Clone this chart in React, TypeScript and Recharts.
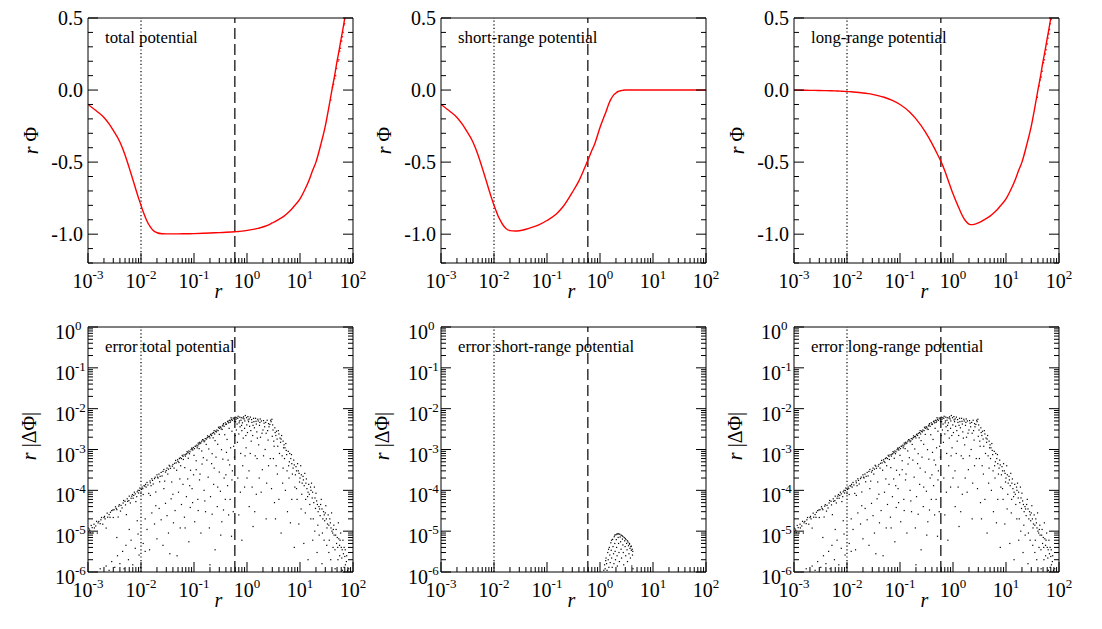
import React from 'react';
import { ComposedChart, Line, Scatter, XAxis, YAxis, ReferenceLine } from 'recharts';

const FONT = "'Liberation Serif', 'DejaVu Serif', Times, serif";
const TXT = { fontFamily: FONT } as React.CSSProperties;

// ---------- axis ticks ----------
const xMajor = [0.001, 0.01, 0.1, 1, 10, 100];
const xMajorLabels = ['-3', '-2', '-1', '0', '1', '2'];
const potMajor = [-1.0, -0.5, 0, 0.5];
const potMajorLabels = ['-1.0', '-0.5', '0.0', '0.5'];
const potAllTicks = [-1.2, -1.1, -1.0, -0.9, -0.8, -0.7, -0.6, -0.5, -0.4, -0.3, -0.2, -0.1, 0, 0.1, 0.2, 0.3, 0.4, 0.5];
const errMajor = [1e-6, 1e-5, 1e-4, 1e-3, 1e-2, 1e-1, 1];
const errMajorLabels = ['-6', '-5', '-4', '-3', '-2', '-1', '0'];
const minorMult = [2, 3, 4, 5, 6, 7, 8, 9];
const withMinor = (majors: number[]) => {
  const out: number[] = [];
  majors.forEach((m, i) => {
    out.push(m);
    if (i < majors.length - 1) minorMult.forEach((k) => out.push(m * k));
  });
  return out;
};
const xAllTicks = withMinor(xMajor);
const errAllTicks = withMinor(errMajor);

// ---------- potential curves (r * Phi) ----------
const rGrid = [0.001, 0.0015, 0.002, 0.0025, 0.003, 0.004, 0.005, 0.006, 0.007, 0.008, 0.009, 0.01, 0.011, 0.012, 0.013, 0.015, 0.017, 0.02, 0.025, 0.03, 0.04, 0.05, 0.07, 0.1, 0.15, 0.2, 0.3, 0.4, 0.5, 0.6, 0.7, 0.8, 1, 1.15, 1.3, 1.45, 1.6, 1.8, 2, 2.2, 2.5, 3, 3.5, 4, 5, 6, 7, 8, 10, 12, 15, 17, 20, 25, 30, 35, 40, 45, 50, 55, 60, 65, 70, 100];
const totalPot = [-0.10, -0.15, -0.19, -0.235, -0.28, -0.36, -0.45, -0.54, -0.62, -0.69, -0.75, -0.80, -0.845, -0.88, -0.91, -0.95, -0.975, -0.99, -0.997, -0.998, -0.998, -0.998, -0.997, -0.996, -0.994, -0.992, -0.989, -0.987, -0.985, -0.983, -0.981, -0.979, -0.974, -0.97, -0.967, -0.963, -0.96, -0.955, -0.95, -0.945, -0.937, -0.922, -0.91, -0.897, -0.875, -0.85, -0.825, -0.80, -0.755, -0.70, -0.62, -0.565, -0.50, -0.37, -0.25, -0.12, 0.0, 0.10, 0.20, 0.28, 0.36, 0.43, 0.5, null];
const shortPot = [-0.10, -0.15, -0.19, -0.235, -0.28, -0.36, -0.45, -0.54, -0.62, -0.69, -0.75, -0.80, -0.84, -0.875, -0.90, -0.94, -0.962, -0.975, -0.978, -0.976, -0.966, -0.955, -0.935, -0.905, -0.86, -0.81, -0.71, -0.63, -0.55, -0.48, -0.42, -0.37, -0.26, -0.20, -0.15, -0.10, -0.065, -0.035, -0.02, -0.01, -0.004, 0, 0, 0, 0, 0, 0, 0, 0, 0, 0, 0, 0, 0, 0, 0, 0, 0, 0, 0, 0, 0, 0, 0];
const longPot = [0.0, -0.001, -0.002, -0.002, -0.003, -0.004, -0.005, -0.006, -0.007, -0.008, -0.009, -0.01, -0.011, -0.012, -0.013, -0.015, -0.017, -0.02, -0.025, -0.03, -0.04, -0.05, -0.07, -0.1, -0.15, -0.2, -0.29, -0.37, -0.44, -0.50, -0.56, -0.62, -0.72, -0.775, -0.82, -0.86, -0.89, -0.915, -0.93, -0.934, -0.932, -0.922, -0.91, -0.897, -0.875, -0.85, -0.825, -0.80, -0.755, -0.70, -0.62, -0.565, -0.50, -0.37, -0.25, -0.12, 0.0, 0.10, 0.20, 0.28, 0.36, 0.43, 0.5, null];
// scattered red points at large r
const totalNoise: [number, number][] = [[38, -0.07], [41, 0.02], [43, 0.04], [45, 0.08], [47, 0.1], [49, 0.15], [52, 0.2], [54, 0.21], [56, 0.27], [58, 0.29], [61, 0.34], [63, 0.37], [65, 0.4], [67, 0.45], [69, 0.46], [72, 0.5]];
const longNoise: [number, number][] = [[39, -0.05], [42, 0.03], [44, 0.07], [46, 0.09], [48, 0.13], [51, 0.19], [53, 0.21], [55, 0.25], [57, 0.28], [60, 0.32], [62, 0.36], [64, 0.39], [66, 0.42], [68, 0.46], [71, 0.49]];

// ---------- errors r*|dPhi| ----------
const errTotal: [number, number][] = [
  [0.001, 1.2e-5], [0.001, 9.6e-6], [0.00105, 1.13e-5], [0.0011, 9.2e-6], [0.00115, 1.38e-5], [0.0012, 1.22e-5], [0.00125, 9.0e-6], [0.0013, 1.48e-5], [0.0014, 1.34e-5], [0.00145, 1.74e-5], [0.0015, 9.0e-6], [0.0016, 1.73e-5], [0.0017, 1.53e-5], [0.0018, 2.16e-5], [0.0019, 1.48e-5],
  [0.002, 2.16e-5], [0.0021, 2.0e-5], [0.0022, 1.19e-5], [0.0023, 2.76e-5], [0.0025, 2.55e-5], [0.0026, 2.18e-5], [0.0028, 3.19e-5], [0.003, 2.16e-5], [0.0031, 3.35e-5], [0.0033, 3.96e-5], [0.0035, 3.36e-5], [0.0037, 2.22e-5], [0.0039, 4.45e-5], [0.0042, 4.28e-5], [0.0044, 3.7e-5], [0.0047, 5.64e-5],
  [0.005, 5.4e-5], [0.0053, 2.54e-5], [0.0056, 5.38e-5], [0.006, 7.2e-5], [0.0063, 4.9e-5], [0.0067, 7.2e-5], [0.0071, 6.4e-5], [0.0075, 9.0e-5], [0.008, 5.3e-5], [0.0085, 9.2e-5], [0.009, 8.6e-5], [0.0095, 1.14e-4], [0.01, 8.4e-5], [0.0105, 1.2e-4], [0.011, 7.9e-5], [0.0118, 1.27e-4],
  [0.0125, 1.2e-4], [0.013, 1.56e-4], [0.014, 8.4e-5], [0.015, 1.53e-4], [0.016, 1.92e-4], [0.017, 1.43e-4], [0.018, 1.94e-4], [0.019, 9.1e-5], [0.02, 2.4e-4], [0.021, 2.0e-4], [0.0225, 1.62e-4], [0.024, 2.74e-4], [0.025, 2.25e-4], [0.027, 3.24e-4], [0.028, 1.68e-4],
  [0.03, 3.06e-4], [0.032, 2.5e-4], [0.034, 4.1e-4], [0.036, 3.46e-4], [0.038, 1.6e-4], [0.04, 4.3e-4], [0.042, 3.5e-4], [0.045, 5.4e-4], [0.047, 3.1e-4], [0.05, 5.1e-4], [0.053, 6.0e-4], [0.056, 4.0e-4], [0.06, 7.2e-4], [0.063, 5.7e-4], [0.067, 3.6e-4], [0.07, 7.6e-4],
  [0.074, 8.9e-4], [0.078, 6.1e-4], [0.082, 7.9e-4], [0.086, 3.1e-4], [0.09, 1.08e-3], [0.095, 9.7e-4], [0.1, 7.2e-4], [0.105, 1.2e-3], [0.11, 5.3e-4], [0.115, 1.1e-3], [0.12, 1.44e-3], [0.125, 1.05e-3], [0.13, 1.4e-3], [0.14, 9.2e-4], [0.145, 1.74e-3], [0.15, 6.3e-4],
  [0.16, 1.63e-3], [0.17, 1.33e-3], [0.18, 2.16e-3], [0.19, 1.03e-3], [0.2, 1.92e-3], [0.21, 2.4e-3], [0.22, 7.9e-4], [0.23, 1.93e-3], [0.24, 2.9e-3], [0.25, 1.65e-3], [0.265, 2.7e-3], [0.28, 1.34e-3], [0.29, 3.5e-3], [0.3, 2.34e-3], [0.32, 3.5e-3], [0.33, 9.9e-4],
  [0.34, 3.1e-3], [0.36, 4.3e-3], [0.38, 2.3e-3], [0.4, 4.1e-3], [0.42, 1.76e-3], [0.44, 5.0e-3], [0.46, 3.3e-3], [0.48, 4.6e-3], [0.5, 6.0e-3], [0.52, 2.8e-3], [0.55, 5.9e-3], [0.58, 4.9e-3], [0.6, 2.2e-3],
  [0.00108, 1.05e-5], [0.00132, 1.2e-5], [0.00155, 1.6e-5], [0.00175, 1.9e-5], [0.00205, 2.3e-5], [0.00235, 2.2e-5], [0.00265, 2.9e-5], [0.00295, 3.3e-5], [0.0034, 3.6e-5], [0.0038, 4.1e-5], [0.0041, 3.1e-5], [0.0046, 4.9e-5], [0.0051, 4.4e-5], [0.0055, 6.2e-5], [0.0059, 5.6e-5], [0.0065, 6.4e-5],
  [0.0069, 7.9e-5], [0.0073, 7.5e-5], [0.0078, 8.2e-5], [0.0083, 7.0e-5], [0.0088, 1.0e-4], [0.0093, 9.9e-5], [0.0102, 1.05e-4], [0.0108, 1.1e-4], [0.0114, 1.3e-4], [0.0122, 1.4e-4], [0.0135, 1.35e-4], [0.0148, 1.7e-4], [0.0155, 1.3e-4], [0.0165, 1.75e-4], [0.0185, 2.1e-4], [0.0205, 2.1e-4],
  [0.0218, 2.5e-4], [0.023, 2.2e-4], [0.026, 2.9e-4], [0.029, 2.8e-4], [0.031, 3.5e-4], [0.033, 3.3e-4], [0.035, 3.9e-4], [0.039, 3.9e-4], [0.043, 4.6e-4], [0.046, 4.7e-4], [0.049, 5.6e-4], [0.052, 4.8e-4], [0.055, 6.3e-4], [0.058, 6.0e-4], [0.062, 6.8e-4], [0.065, 7.4e-4],
  [0.069, 6.9e-4], [0.073, 7.9e-4], [0.077, 8.4e-4], [0.08, 9.2e-4], [0.084, 8.8e-4], [0.088, 9.9e-4], [0.093, 1.03e-3], [0.097, 1.12e-3], [0.102, 1.05e-3], [0.108, 1.2e-3], [0.113, 1.28e-3], [0.118, 1.22e-3], [0.123, 1.35e-3], [0.128, 1.5e-3], [0.135, 1.45e-3], [0.14, 1.6e-3],
  [0.15, 1.7e-3], [0.155, 1.55e-3], [0.163, 1.85e-3], [0.172, 1.8e-3], [0.178, 1.95e-3], [0.188, 2.05e-3], [0.195, 2.1e-3], [0.205, 2.3e-3], [0.215, 2.2e-3], [0.225, 2.5e-3], [0.235, 2.6e-3], [0.245, 2.4e-3], [0.255, 2.8e-3], [0.27, 3.0e-3], [0.285, 2.9e-3], [0.3, 3.3e-3],
  [0.31, 3.6e-3], [0.325, 3.2e-3], [0.345, 3.8e-3], [0.355, 4.0e-3], [0.37, 3.7e-3], [0.39, 4.5e-3], [0.41, 4.2e-3], [0.43, 4.8e-3], [0.45, 4.5e-3], [0.47, 5.2e-3], [0.49, 5.0e-3], [0.51, 5.5e-3], [0.53, 5.2e-3], [0.57, 5.6e-3], [0.6, 6.2e-3],
  [0.0017, 1.2e-6], [0.0022, 1.4e-6], [0.0025, 1.1e-6], [0.0028, 1.8e-6], [0.0032, 1.3e-6], [0.0036, 2.5e-6], [0.004, 1.6e-6], [0.0045, 3.2e-6], [0.0048, 1.2e-6], [0.0052, 4.5e-6], [0.0058, 2.0e-6], [0.0065, 6.0e-6], [0.007, 1.5e-6], [0.0078, 3.8e-6], [0.0088, 8.5e-6], [0.0092, 2.6e-6], [0.0098, 1.3e-6],
  [0.011, 5.0e-6], [0.012, 2.0e-5], [0.013, 1.1e-5], [0.0145, 3.5e-6], [0.016, 2.8e-5], [0.018, 1.5e-5], [0.02, 6.5e-6], [0.022, 3.6e-5], [0.024, 1.9e-5], [0.026, 4.5e-6], [0.029, 4.8e-5], [0.031, 2.4e-5], [0.033, 9.0e-6], [0.037, 6.2e-5], [0.041, 1.6e-5], [0.044, 3.2e-5], [0.048, 2.5e-6], [0.051, 9.0e-5], [0.055, 1.2e-5],
  [0.058, 4.5e-5], [0.062, 1.4e-4], [0.066, 2.2e-5], [0.072, 7.0e-5], [0.076, 1.9e-4], [0.08, 5.5e-6], [0.085, 3.8e-5], [0.092, 1.1e-4], [0.098, 2.4e-4], [0.103, 1.7e-5], [0.11, 3.2e-4], [0.118, 6.0e-5], [0.127, 1.8e-4], [0.135, 9.0e-6], [0.142, 4.4e-4], [0.155, 1.0e-4],
  [0.165, 3.0e-5], [0.175, 5.5e-4], [0.185, 2.1e-4], [0.195, 1.2e-5], [0.205, 7.0e-5], [0.215, 4.5e-4], [0.235, 1.4e-4], [0.25, 3.5e-6], [0.26, 6.5e-4], [0.275, 4.0e-5], [0.3, 2.8e-4], [0.315, 9.5e-5], [0.335, 1.7e-5], [0.35, 5.8e-4], [0.37, 2.0e-4], [0.39, 6.0e-5],
  [0.41, 8.5e-4], [0.43, 1.3e-4], [0.45, 2.5e-5], [0.47, 4.2e-4], [0.49, 1.1e-3], [0.51, 7.5e-6], [0.53, 3.0e-4], [0.56, 1.2e-3], [0.59, 9.0e-5],
  [0.0035, 7.0e-6], [0.006, 1.1e-5], [0.0085, 1.8e-5], [0.012, 3.2e-6], [0.015, 7.5e-5], [0.019, 4.2e-5], [0.027, 1.1e-4], [0.035, 2.8e-6], [0.04, 8.0e-5], [0.054, 1.9e-4], [0.068, 1.2e-5], [0.083, 1.3e-4], [0.094, 5.0e-5], [0.12, 3.2e-5], [0.13, 2.5e-4], [0.16, 5.5e-5],
  [0.2, 1.5e-6], [0.22, 2.6e-5], [0.24, 3.5e-4], [0.28, 1.2e-4], [0.32, 8.0e-6], [0.36, 3.3e-5], [0.4, 2.4e-4], [0.44, 5.5e-4], [0.48, 6.0e-5], [0.52, 1.8e-4], [0.55, 3.0e-5], [0.58, 6.5e-4],
  [0.62, 5.5e-3], [0.63, 3.0e-3], [0.65, 4.2e-3], [0.66, 1.5e-3], [0.68, 6.5e-3], [0.7, 2.4e-3], [0.72, 5.0e-3], [0.74, 3.6e-3], [0.76, 8.0e-4], [0.78, 6.0e-3], [0.8, 2.9e-3], [0.82, 4.5e-3], [0.85, 1.9e-3], [0.88, 5.6e-3], [0.9, 3.3e-3], [0.93, 6.8e-3],
  [0.96, 1.1e-3], [0.99, 4.0e-3], [1.02, 2.6e-3], [1.05, 5.3e-3], [1.09, 3.0e-4], [1.12, 3.7e-3], [1.16, 6.2e-3], [1.2, 1.6e-3], [1.24, 4.6e-3], [1.28, 2.2e-3], [1.33, 5.8e-3], [1.38, 3.4e-3], [1.43, 7.0e-4], [1.48, 4.9e-3], [1.53, 2.7e-3], [1.6, 5.5e-3],
  [1.66, 1.3e-3], [1.72, 3.9e-3], [1.8, 2.0e-3], [1.87, 5.0e-3], [1.95, 3.2e-4], [2.0, 3.0e-3], [2.1, 4.4e-3], [2.2, 1.0e-3], [2.3, 2.5e-3], [2.4, 5.2e-3], [2.5, 1.7e-3], [2.6, 3.6e-3], [2.75, 6.0e-4], [2.85, 4.8e-3], [3.0, 2.1e-3], [3.1, 3.0e-3],
  [3.25, 1.2e-3], [3.4, 2.6e-3], [3.55, 4.0e-4], [3.7, 1.8e-3], [3.9, 2.9e-3], [4.1, 8.0e-4], [4.3, 1.5e-3], [4.5, 2.2e-3], [4.7, 1.5e-4], [4.9, 1.1e-3], [5.1, 6.0e-4], [5.4, 1.4e-3], [5.7, 3.0e-4], [6.0, 9.0e-4], [6.3, 5.0e-4], [6.6, 1.6e-5],
  [6.9, 7.5e-4], [7.2, 2.5e-4], [7.6, 5.5e-4], [8.0, 1.2e-4], [8.4, 3.8e-4], [8.8, 6.0e-5], [9.3, 3.0e-4], [9.8, 1.6e-4], [10.3, 4.0e-4], [10.8, 8.0e-5], [11.4, 2.2e-4], [12.0, 1.3e-4], [12.6, 2.8e-5], [13.2, 1.9e-4], [13.9, 7.0e-5], [14.6, 1.4e-4],
  [15.3, 4.5e-5], [16.1, 1.0e-4], [17.0, 6.5e-5], [17.8, 2.0e-5], [18.7, 1.2e-4], [19.6, 3.6e-5], [20.6, 5.5e-5], [21.7, 1.4e-5], [22.8, 4.0e-5], [24.0, 2.4e-5], [25.2, 6.0e-5], [26.5, 9.0e-6], [27.8, 3.0e-5], [29.2, 1.8e-5], [30.7, 4.2e-5], [32.3, 1.2e-5],
  [34.0, 2.5e-5], [35.7, 6.0e-6], [37.5, 1.6e-5], [39.4, 2.8e-5], [41.4, 9.0e-6], [43.5, 1.4e-5], [45.7, 3.5e-6], [48.0, 1.1e-5], [50.5, 7.0e-6], [53.0, 1.6e-5], [55.7, 4.5e-6], [58.5, 9.0e-6], [61.5, 2.2e-6], [64.6, 6.0e-6], [68.0, 1.3e-6], [71.4, 3.5e-6], [75.0, 1.8e-6], [78.8, 1.1e-6],
  [0.64, 6.0e-3], [0.71, 4.5e-3], [0.79, 3.9e-3], [0.86, 6.3e-3], [0.95, 2.2e-3], [1.07, 4.8e-3], [1.18, 2.9e-3], [1.3, 3.9e-3], [1.45, 5.8e-3], [1.57, 1.9e-3], [1.75, 4.6e-3], [1.92, 2.5e-3], [2.15, 3.6e-3], [2.45, 2.9e-3], [2.7, 4.1e-3], [2.95, 5.5e-3],
  [3.2, 1.6e-3], [3.5, 2.2e-3], [3.8, 1.2e-3], [4.2, 1.9e-3], [4.6, 7.0e-4], [5.0, 1.3e-3], [5.5, 9.5e-4], [6.1, 4.0e-4], [6.7, 6.0e-4], [7.4, 3.5e-4], [8.2, 2.4e-4], [9.0, 4.5e-4], [10.0, 2.0e-4], [11.0, 1.5e-4], [12.3, 2.6e-4], [13.5, 1.1e-4],
  [15.0, 8.0e-5], [16.5, 1.5e-4], [18.2, 5.0e-5], [20.0, 8.5e-5], [22.0, 3.0e-5], [24.5, 4.5e-5], [27.0, 2.0e-5], [30.0, 2.8e-5], [33.0, 1.5e-5], [36.5, 2.0e-5], [40.0, 1.0e-5], [44.0, 8.0e-6], [49.0, 5.0e-6], [54.0, 6.5e-6], [60.0, 4.0e-6], [66.0, 2.8e-6], [72.0, 1.5e-6],
  [0.61, 4.8e-3], [0.67, 5.8e-3], [0.73, 6.2e-3], [0.77, 5.2e-3], [0.84, 5.9e-3], [0.91, 5.0e-3], [0.98, 6.0e-3], [1.04, 6.4e-3], [1.1, 5.6e-3], [1.22, 5.4e-3], [1.35, 4.8e-3], [1.5, 4.2e-3], [1.63, 5.0e-3], [1.78, 5.6e-3], [2.05, 5.1e-3], [2.25, 4.6e-3],
  [2.55, 4.3e-3], [2.8, 5.2e-3], [3.05, 4.0e-3], [3.35, 3.4e-3], [3.6, 2.8e-3], [4.0, 2.4e-3], [4.4, 1.8e-3], [4.8, 1.6e-3], [5.2, 1.1e-3], [5.6, 7.5e-4], [6.4, 8.0e-4], [7.0, 4.5e-4], [7.8, 4.2e-4], [8.6, 3.0e-4], [9.6, 2.6e-4], [10.6, 2.4e-4],
  [11.6, 1.8e-4], [12.9, 1.5e-4], [14.2, 9.0e-5], [15.8, 1.2e-4], [17.3, 9.0e-5], [19.2, 6.5e-5], [21.3, 4.5e-5], [23.4, 3.5e-5], [26.0, 3.5e-5], [28.7, 2.5e-5], [31.5, 2.0e-5], [35.0, 1.4e-5], [38.5, 1.2e-5], [42.5, 1.1e-5], [47.0, 8.0e-6], [51.5, 4.0e-6], [57.0, 6.0e-6], [62.5, 3.5e-6], [70.0, 2.4e-6],
  [0.67, 2.0e-4], [0.75, 9.0e-5], [0.83, 4.0e-4], [0.92, 7.0e-4], [1.0, 2.0e-4], [1.15, 8.0e-4], [1.25, 1.2e-4], [1.4, 3.0e-5], [1.55, 6.0e-4], [1.7, 2.0e-4], [1.85, 9.0e-5], [2.05, 7.0e-4], [2.35, 1.5e-4], [2.55, 4.0e-4], [2.9, 1.1e-4], [3.15, 6.0e-4],
  [3.45, 2.0e-5], [3.75, 2.5e-4], [4.0, 6.0e-5], [4.8, 3.5e-4], [5.3, 1.0e-4], [6.2, 2.0e-4], [7.0, 6.0e-5], [8.6, 1.1e-4], [10.5, 3.5e-5], [12.8, 6.0e-5], [16.0, 2.0e-5], [19.0, 1.0e-5], [23.0, 8.0e-6], [28.5, 6.0e-6], [35.0, 3.0e-6], [42.0, 4.0e-6], [52.0, 2.0e-6], [68.0, 4.0e-6], [76.0, 2.5e-6], [83.0, 1.2e-6],
  [1.5, 8.0e-5], [2.3, 2.0e-5], [3.3, 5.0e-5], [4.4, 9.0e-6], [5.8, 3.0e-5], [7.8, 4.0e-6], [9.5, 1.5e-5], [11.8, 5.0e-6], [14.2, 2.0e-6], [17.4, 6.0e-6], [21.0, 3.0e-6], [26.0, 1.6e-6], [32.0, 4.5e-6], [38.0, 2.0e-6], [46.0, 1.2e-6], [56.0, 2.5e-6], [63.0, 1.1e-6],
  [0.7, 2.5e-5], [0.9, 1.2e-4], [1.1, 4.0e-5], [0.8, 6.0e-6], [1.3, 1.3e-5],
];
const errLong = errTotal;
const errShort: [number, number][] = [
  [1.18, 1.1e-6], [1.22, 1.5e-6], [1.25, 1.2e-6], [1.3, 2.2e-6], [1.33, 1.6e-6], [1.36, 1.1e-6], [1.4, 3.0e-6], [1.43, 2.0e-6], [1.47, 1.3e-6], [1.5, 4.0e-6], [1.53, 2.6e-6], [1.56, 1.7e-6], [1.6, 5.2e-6], [1.63, 3.4e-6], [1.66, 2.2e-6], [1.7, 1.3e-6],
  [1.73, 6.3e-6], [1.76, 4.2e-6], [1.8, 2.8e-6], [1.83, 1.6e-6], [1.86, 7.3e-6], [1.9, 5.0e-6], [1.93, 3.2e-6], [1.96, 2.0e-6], [2.0, 8.2e-6], [2.03, 6.2e-6], [2.06, 4.0e-6], [2.1, 2.5e-6], [2.13, 1.4e-6], [2.16, 8.6e-6], [2.2, 7.0e-6], [2.24, 5.0e-6],
  [2.28, 3.0e-6], [2.32, 1.8e-6], [2.36, 8.4e-6], [2.4, 7.2e-6], [2.45, 5.5e-6], [2.5, 3.6e-6], [2.55, 2.2e-6], [2.6, 7.8e-6], [2.65, 6.4e-6], [2.7, 4.6e-6], [2.75, 3.0e-6], [2.8, 1.5e-6], [2.86, 7.0e-6], [2.92, 5.8e-6], [2.98, 4.2e-6], [3.05, 2.5e-6],
  [3.1, 6.2e-6], [3.17, 5.0e-6], [3.24, 3.5e-6], [3.3, 1.8e-6], [3.38, 5.4e-6], [3.45, 4.4e-6], [3.52, 2.8e-6], [3.6, 4.8e-6], [3.68, 3.8e-6], [3.75, 2.2e-6], [3.82, 4.2e-6], [3.9, 3.4e-6], [3.98, 1.4e-6], [4.05, 3.6e-6], [4.1, 2.6e-6], [4.15, 3.2e-6], [4.2, 1.2e-6],
  [1.9, 8.0e-6], [2.08, 8.5e-6], [2.25, 8.6e-6], [2.5, 8.0e-6], [2.7, 7.4e-6], [3.0, 6.6e-6], [3.3, 5.8e-6], [3.6, 5.0e-6], [3.9, 4.3e-6], [1.65, 6.0e-6], [1.45, 3.6e-6], [1.28, 1.9e-6],
];

const vDotted = 0.01;
const vDashed = 0.59;

// ---------- layout ----------
const PW = 265;
const PH = 245;
const AX = 1; // axis band thickness (must be > 0 for Recharts to draw it)
const M = { left: 79, right: 19, top: 14, bottom: 44 };
const panelLeft = [88, 441, 794];
const rowTop = [18, 327];

const sameVal = (a: number, b: number) => Math.abs(a - b) <= Math.abs(a) * 1e-6 + 1e-9;

type Side = 'bottom' | 'top' | 'left' | 'right';
function makeTick(side: Side, majors: number[], labels: string[] | null, pow: boolean) {
  return (props: any) => {
    const { x, y, payload } = props;
    const v = payload.value;
    const idx = majors.findIndex((m) => sameVal(m, v));
    const len = idx >= 0 ? 10 : 5;
    let line: React.ReactNode = null;
    if (side === 'bottom') line = <line x1={x} x2={x} y1={y} y2={y - len} stroke="#000" strokeWidth={1} />;
    if (side === 'top') line = <line x1={x} x2={x} y1={y} y2={y + len} stroke="#000" strokeWidth={1} />;
    if (side === 'left') line = <line x1={x} x2={x + len} y1={y} y2={y} stroke="#000" strokeWidth={1} />;
    if (side === 'right') line = <line x1={x} x2={x - len} y1={y} y2={y} stroke="#000" strokeWidth={1} />;
    let label: React.ReactNode = null;
    if (labels && idx >= 0) {
      if (side === 'bottom') {
        label = (
          <text x={x} y={y + 25} textAnchor="middle" fontSize={20} fill="#000" fontFamily={FONT} style={TXT}>
            10<tspan dy={-9} fontSize={13}>{labels[idx]}</tspan>
          </text>
        );
      } else if (side === 'left') {
        label = pow ? (
          <text x={x - 33} y={y + 12} textAnchor="start" fontSize={20} fill="#000" fontFamily={FONT} style={TXT}>
            10<tspan dy={-9} fontSize={13}>{labels[idx]}</tspan>
          </text>
        ) : (
          <text x={x - 5} y={y + 7} textAnchor="end" fontSize={20} fill="#000" fontFamily={FONT} style={TXT}>
            {labels[idx]}
          </text>
        );
      }
    }
    return (
      <g>
        {line}
        {label}
      </g>
    );
  };
}

const BlackDot = (p: any) => <rect x={p.cx - 0.6} y={p.cy - 0.6} width={1.2} height={1.2} fill="#000" />;
const RedDot = (p: any) => <rect x={p.cx - 0.7} y={p.cy - 0.7} width={1.4} height={1.4} fill="#ff0000" />;

type PanelProps = {
  kind: 'pot' | 'err';
  title: string;
  values?: (number | null)[];
  noise?: [number, number][];
  points?: [number, number][];
  left: number;
  top: number;
};

function Panel({ kind, title, values, noise, points, left, top }: PanelProps) {
  const isPot = kind === 'pot';
  const data = isPot && values ? rGrid.map((r, i) => ({ r, v: values[i] })) : [];
  const yDomain: [number, number] = isPot ? [-1.2, 0.5] : [1e-6, 1];
  const yTicks = isPot ? potAllTicks : errAllTicks;
  const yMajor = isPot ? potMajor : errMajor;
  const yLabels = isPot ? potMajorLabels : errMajorLabels;
  const yScale = isPot ? 'linear' : 'log';
  const W = PW + M.left + M.right + 2 * AX;
  const H = PH + M.top + M.bottom + 2 * AX;
  const plotLeftInChart = M.left + AX;
  const plotTopInChart = M.top + AX;

  const xTitle = () => (
    <text x={plotLeftInChart + PW / 2 - 2} y={plotTopInChart + PH + 35} textAnchor="middle" fontSize={20} fontStyle="italic" fill="#000" fontFamily={FONT} style={TXT}>
      r
    </text>
  );
  const panelTitle = () => (
    <text x={plotLeftInChart + 17} y={plotTopInChart + 25} fontSize={16.8} fill="#000" fontFamily={FONT} style={TXT}>
      {title}
    </text>
  );
  const yTitle = () => {
    const bx = plotLeftInChart - (isPot ? 50 : 52);
    const cy = plotTopInChart + (isPot ? PH / 2 : 109);
    return (
      <text x={bx} y={cy} transform={`rotate(-90, ${bx}, ${cy})`} textAnchor="middle" fontSize={20} fill="#000" fontFamily={FONT} style={TXT}>
        <tspan fontStyle="italic">r</tspan>
        {isPot ? ' \u03A6' : ' |\u0394\u03A6|'}
      </text>
    );
  };

  return (
    <div style={{ position: 'absolute', left: left - plotLeftInChart, top: top - plotTopInChart, width: W, height: H }}>
      <ComposedChart width={W} height={H} data={data} margin={M} style={{ fontFamily: FONT }}>
        <XAxis
          xAxisId="b"
          dataKey="r"
          type="number"
          scale="log"
          domain={[0.001, 100]}
          allowDataOverflow
          ticks={xAllTicks}
          interval={0}
          height={AX}
          tickSize={0}
          tickMargin={0}
          tickLine={false}
          axisLine={{ stroke: '#000', strokeWidth: 1 }}
          tick={makeTick('bottom', xMajor, xMajorLabels, true)}
          label={{ content: xTitle }}
        />
        <XAxis
          xAxisId="t"
          orientation="top"
          type="number"
          scale="log"
          domain={[0.001, 100]}
          allowDataOverflow
          ticks={xAllTicks}
          interval={0}
          height={AX}
          tickSize={0}
          tickMargin={0}
          tickLine={false}
          axisLine={{ stroke: '#000', strokeWidth: 1 }}
          tick={makeTick('top', xMajor, null, true)}
          label={{ content: panelTitle }}
        />
        <YAxis
          yAxisId="l"
          type="number"
          scale={yScale as any}
          domain={yDomain}
          allowDataOverflow
          ticks={yTicks}
          interval={0}
          width={AX}
          tickSize={0}
          tickMargin={0}
          tickLine={false}
          axisLine={{ stroke: '#000', strokeWidth: 1 }}
          tick={makeTick('left', yMajor, yLabels, !isPot)}
          label={{ content: yTitle }}
        />
        <YAxis
          yAxisId="r"
          orientation="right"
          type="number"
          scale={yScale as any}
          domain={yDomain}
          allowDataOverflow
          ticks={yTicks}
          interval={0}
          width={AX}
          tickSize={0}
          tickMargin={0}
          tickLine={false}
          axisLine={{ stroke: '#000', strokeWidth: 1 }}
          tick={makeTick('right', yMajor, null, !isPot)}
        />
        <ReferenceLine xAxisId="b" yAxisId="l" x={vDotted} stroke="#000" strokeWidth={1.2} strokeDasharray="1.2 2.4" />
        <ReferenceLine xAxisId="b" yAxisId="l" x={vDashed} stroke="#000" strokeWidth={1.2} strokeDasharray="11 5" />
        {isPot && (
          <Line xAxisId="b" yAxisId="l" dataKey="v" type="monotone" stroke="#ff0000" strokeWidth={1.4} dot={false} isAnimationActive={false} connectNulls={false} />
        )}
        {isPot && noise && (
          <Scatter xAxisId="b" yAxisId="l" data={noise.map(([r, v]) => ({ r, v }))} dataKey="v" shape={RedDot} isAnimationActive={false} />
        )}
        {!isPot && points && (
          <Scatter xAxisId="b" yAxisId="l" data={points.map(([r, e]) => ({ r, e }))} dataKey="e" shape={BlackDot} isAnimationActive={false} />
        )}
      </ComposedChart>
    </div>
  );
}

export default function App() {
  return (
    <div style={{ position: 'absolute', left: 0, top: 0, width: 1102, height: 629, background: '#fff', fontFamily: FONT }}>
      <Panel kind="pot" title="total potential" values={totalPot} noise={totalNoise} left={panelLeft[0]} top={rowTop[0]} />
      <Panel kind="pot" title="short-range potential" values={shortPot} left={panelLeft[1]} top={rowTop[0]} />
      <Panel kind="pot" title="long-range potential" values={longPot} noise={longNoise} left={panelLeft[2]} top={rowTop[0]} />
      <Panel kind="err" title="error total potential" points={errTotal} left={panelLeft[0]} top={rowTop[1]} />
      <Panel kind="err" title="error short-range potential" points={errShort} left={panelLeft[1]} top={rowTop[1]} />
      <Panel kind="err" title="error long-range potential" points={errLong} left={panelLeft[2]} top={rowTop[1]} />
    </div>
  );
}
